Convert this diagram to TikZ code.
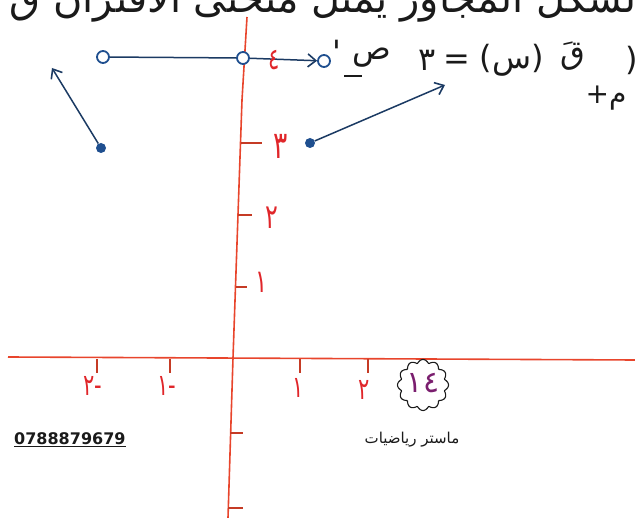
\documentclass[tikz,border=0pt]{standalone}
\usepackage{fontspec}
\setmainfont{DejaVu Sans}
\newfontfamily\arab[Script=Arabic]{DejaVu Sans}
\TeXXeTstate=1
\usetikzlibrary{arrows.meta}
\definecolor{axisred}{HTML}{E8452C}
\definecolor{inkblue}{HTML}{1F4F8F}
\definecolor{navy}{HTML}{1B3A63}
\definecolor{labred}{HTML}{E0262A}
\definecolor{badgepurple}{HTML}{7A1E6E}
\definecolor{pen}{HTML}{1A1A1A}
\newcommand\slim[1]{\scalebox{0.7}[1]{#1}}
\begin{document}
\begin{tikzpicture}[x=1pt,y=-1pt,
  axis/.style={axisred, line width=1.6pt},
  tickmark/.style={axisred!85!black, line width=1.8pt},
  lab/.style={text=labred, font=\arab\fontsize{30}{30}\selectfont, inner sep=0pt},
  ylab/.style={text=labred, font=\arab\fontsize{38}{38}\selectfont, inner sep=0pt},
  ray/.style={navy, line width=1.5pt, -{Straight Barb[length=8pt,width=13pt,line width=1.6pt]}},
  seg/.style={navy, line width=1.5pt},
  hole/.style={circle, draw=inkblue, line width=1.8pt, minimum size=12pt, inner sep=0pt, fill=white},
  dot/.style={circle, fill=inkblue, minimum size=10pt, inner sep=0pt},
  ink/.style={text=pen, font=\arab\fontsize{32}{32}\selectfont, inner sep=0pt}]
\useasboundingbox (0,0) rectangle (635,518);
\clip (0,0) rectangle (635,518);
% cut-off heading
\node[ink, font=\arab\fontsize{40}{40}\selectfont, anchor=base east] (head) at (648,13)
  {\beginR الشكل المجاور يمثل منحنى الاقتران ق أجد\endR};
% axes
\coordinate (xl) at (8,357);
\coordinate (xr) at (635,360);
\coordinate (yt) at (247,17);
\coordinate (yb) at (228,518);
\draw[axis] (xl) -- (xr);
\draw[axis] (yt) -- (242,100) -- (233,358) -- (yb);
% x ticks
\foreach \x in {97,170,300,368} \draw[tickmark] (\x,359) -- (\x,373);
\node[lab] (xm2) at (93,386) {\slim{-٢}};
\node[lab] (xm1) at (167,386) {\slim{-١}};
\node[lab] (xp1) at (298,388) {\slim{١}};
\node[lab] (xp2) at (364,390) {\slim{٢}};
% y ticks
\draw[tickmark] (241,143) -- (262,143);
\draw[tickmark] (238,215) -- (252,215);
\draw[tickmark] (236,287) -- (247,287);
\draw[tickmark] (230,433) -- (243,433);
\draw[tickmark] (228,508) -- (243,508);
\node[ylab] (y3) at (281,146) {\slim{٣}};
\node[ylab, font=\arab\fontsize{34}{34}\selectfont] (y2) at (272,218) {\slim{٢}};
\node[ylab, font=\arab\fontsize{32}{32}\selectfont] (y1) at (262,282) {\slim{١}};
% graph pieces
\node[hole] (h1) at (103,57) {};
\node[hole] (h2) at (243,58) {};
\node[hole] (h3) at (324,61) {};
\draw[seg] (h1) -- (h2);
\draw[ray] (h2) -- (h3);
\node[lab] (y4) at (274,60) {\slim{٤}};
\node[dot] (d1) at (101,148) {};
\coordinate (e1) at (52,68);
\draw[ray] (d1) -- (e1);
\node[dot] (d2) at (310,143) {};
\coordinate (e2) at (445,85);
\draw[ray] (d2) -- (e2);
% equation text
\node[ink] (pr) at (337,52) {'};
\node[ink] (sad) at (372,58) {ص};
\draw[pen, line width=1.5pt] (344,76) -- (362,76);
\node[ink] (three) at (427,60) {٣};
\node[ink] (eq) at (457,62) {=};
\node[ink] (arg) at (512,60) {(س)};
\node[ink] (qaf) at (573,56) {قَ};
\node[ink] (par) at (632,60) {(};
\node[ink, font=\arab\fontsize{28}{28}\selectfont] (plus) at (606,98) {م+};
% badge
\draw[pen, line width=1.1pt, shift={(423,385)}]
  plot[domain=0:360, samples=181, smooth cycle] (\x:{22+3.5*abs(cos(6*\x))});
\node[circle, inner sep=0pt, minimum size=40pt, text=badgepurple,
  font=\arab\fontsize{30}{30}\selectfont] (badge) at (423,383) {١٤};
% footer
\node[inner sep=0pt, font=\bfseries\fontsize{16}{16}\selectfont, text=pen, anchor=west] (phone) at (14,440) {\underline{0788879679}};
\node[inner sep=0pt, font=\arab\fontsize{15}{15}\selectfont, text=pen] (brand) at (412,440) {\beginR ماستر رياضيات\endR};
\end{tikzpicture}
\end{document}
